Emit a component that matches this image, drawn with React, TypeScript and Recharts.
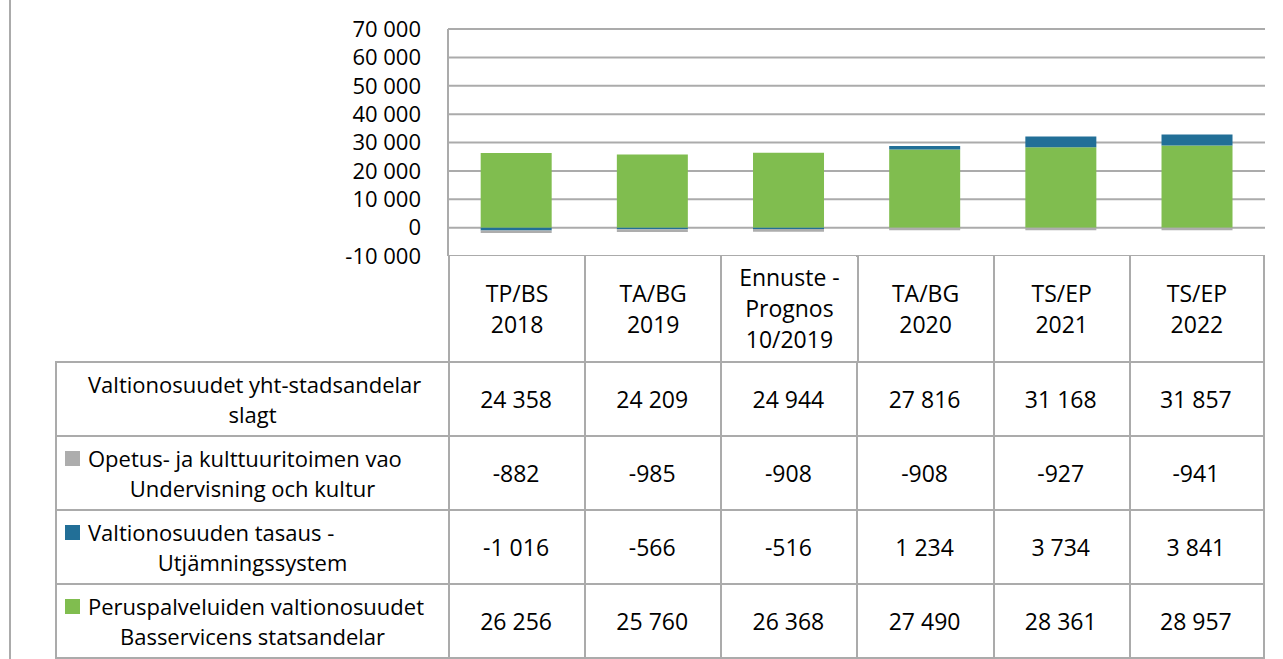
import { BarChart, Bar, XAxis, YAxis, CartesianGrid } from "recharts";

// column headers of the data table (one entry per category, split into lines)
const categoryLines = [
  ["TP/BS", "2018"],
  ["TA/BG", "2019"],
  ["Ennuste -", "Prognos", "10/2019"],
  ["TA/BG", "2020"],
  ["TS/EP", "2021"],
  ["TS/EP", "2022"],
];

const totalValues = [24358, 24209, 24944, 27816, 31168, 31857];
const opetusValues = [-882, -985, -908, -908, -927, -941];
const tasausValues = [-1016, -566, -516, 1234, 3734, 3841];
const perusValues = [26256, 25760, 26368, 27490, 28361, 28957];

const yTicks = [-10000, 0, 10000, 20000, 30000, 40000, 50000, 60000, 70000];

const totalLabel = ["Valtionosuudet yht-stadsandelar", "slagt"];
const opetusLabel = ["Opetus- ja kulttuuritoimen vao", "Undervisning och kultur"];
const tasausLabel = ["Valtionosuuden tasaus -", "Utjämningssystem"];
const perusLabel = ["Peruspalveluiden valtionosuudet", "Basservicens statsandelar"];

const GREEN = "#80BD4F";
const BLUE = "#226F97";
const GRAY = "#ADADAD";
const LINE = "#ABABAB";
const FONT = "'Open Sans', sans-serif";

const W = 1283;
const H = 659;
const PLOT_L = 448;
const PLOT_R = 1265;
const PLOT_T = 29;
const AXIS_B = 256;
const HEAD_B = 361;
const ROW_H = 74;
const LEG_L = 55;
const EXTRA = 24; // room under the plot so the lowest tick label is not clipped

const fmt = (v: number) =>
  (v < 0 ? "-" : "") + String(Math.abs(v)).replace(/\B(?=(\d{3})+(?!\d))/g, " ");

const data = categoryLines.map((lines, i) => ({
  name: lines.join(" "),
  perus: perusValues[i],
  tasaus: tasausValues[i],
  opetus: opetusValues[i],
}));

const rows = [
  { label: totalLabel, color: "transparent", values: totalValues },
  { label: opetusLabel, color: GRAY, values: opetusValues },
  { label: tasausLabel, color: BLUE, values: tasausValues },
  { label: perusLabel, color: GREEN, values: perusValues },
];

const colW = (PLOT_R - PLOT_L) / categoryLines.length;

export default function App() {
  return (
    <div
      style={{
        position: "fixed",
        left: 0,
        top: 0,
        width: W,
        height: H,
        background: "#fff",
        overflow: "hidden",
        fontFamily: FONT,
        color: "#000",
      }}
    >
      {/* outer frame line on the left */}
      <div style={{ position: "absolute", left: 9, top: 0, width: 2, height: H, background: LINE }} />

      <div style={{ position: "absolute", left: 0, top: 0 }}>
        <BarChart
          width={W}
          height={AXIS_B + EXTRA}
          data={data}
          stackOffset="sign"
          barCategoryGap="24%"
          margin={{ top: PLOT_T, right: W - PLOT_R, left: 0, bottom: EXTRA }}
        >
          <CartesianGrid vertical={false} stroke={LINE} strokeWidth={2} />
          <XAxis dataKey="name" hide />
          <YAxis
            width={PLOT_L}
            domain={[-10000, 70000]}
            ticks={yTicks}
            interval={0}
            tickFormatter={fmt}
            tickLine={false}
            tickMargin={21}
            axisLine={{ stroke: LINE, strokeWidth: 2 }}
            tick={{ fontSize: 22, fill: "#000", fontFamily: FONT }}
          />
          <Bar dataKey="perus" stackId="a" fill={GREEN} isAnimationActive={false} />
          <Bar dataKey="tasaus" stackId="a" fill={BLUE} isAnimationActive={false} />
          <Bar dataKey="opetus" stackId="a" fill={GRAY} isAnimationActive={false} />
        </BarChart>
      </div>

      {/* data table: header row with categories */}
      {categoryLines.map((lines, i) => (
        <div
          key={"h" + i}
          style={{
            position: "absolute",
            left: PLOT_L + i * colW,
            top: AXIS_B,
            width: colW,
            height: HEAD_B - AXIS_B,
            borderLeft: `2px solid ${LINE}`,
            borderRight: i === categoryLines.length - 1 ? `2px solid ${LINE}` : "none",
            boxSizing: "border-box",
            display: "flex",
            flexDirection: "column",
            justifyContent: "center",
            alignItems: "center",
            fontSize: 23,
            lineHeight: "31px",
            background: "#fff",
          }}
        >
          {lines.map((l, j) => (
            <div key={j}>{l}</div>
          ))}
        </div>
      ))}

      {/* data table: series rows */}
      {rows.map((r, ri) => {
        const top = HEAD_B + ri * ROW_H;
        return (
          <div key={"r" + ri}>
            <div
              style={{
                position: "absolute",
                left: LEG_L,
                top,
                width: PLOT_L - LEG_L + 2,
                height: ROW_H + 2,
                border: `2px solid ${LINE}`,
                boxSizing: "border-box",
                display: "flex",
                flexDirection: "column",
                justifyContent: "center",
                fontSize: 22,
                lineHeight: "30px",
              }}
            >
              <div style={{ display: "flex", alignItems: "center", paddingLeft: 8, whiteSpace: "nowrap" }}>
                <span style={{ width: 15, height: 15, background: r.color, marginRight: 8, flex: "none" }} />
                <span>{r.label[0]}</span>
              </div>
              <div style={{ textAlign: "center", whiteSpace: "nowrap" }}>{r.label[1]}</div>
            </div>
            {r.values.map((v, i) => (
              <div
                key={i}
                style={{
                  position: "absolute",
                  left: PLOT_L + i * colW,
                  top,
                  width: colW + (i === r.values.length - 1 ? 0 : 2),
                  height: ROW_H + 2,
                  borderTop: `2px solid ${LINE}`,
                  borderBottom: `2px solid ${LINE}`,
                  borderRight: `2px solid ${LINE}`,
                  boxSizing: "border-box",
                  display: "flex",
                  alignItems: "center",
                  justifyContent: "center",
                  fontSize: 23,
                }}
              >
                {fmt(v)}
              </div>
            ))}
          </div>
        );
      })}
    </div>
  );
}
